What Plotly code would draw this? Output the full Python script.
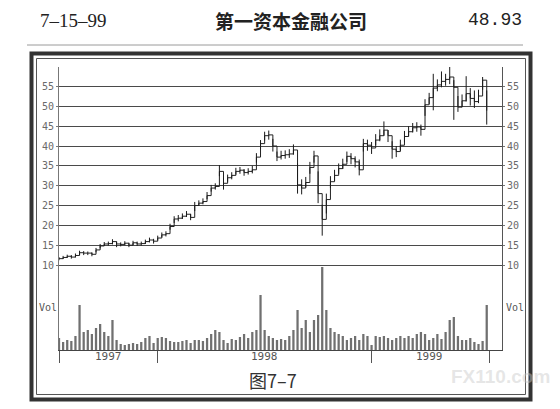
import datetime as dt
import plotly.graph_objects as go

# ---------------- data (weekly) ----------------
start = dt.date(1997, 7, 18)
n_weeks = 105
dates = [start + dt.timedelta(days=7 * i) for i in range(n_weeks)]

close = [11.6, 11.9, 12.2, 12.0, 12.4, 13.1, 13.0, 13.0, 12.7, 13.8,
         14.8, 15.3, 15.4, 15.9, 15.3, 15.2, 15.5, 15.0, 15.6, 15.3,
         15.4, 15.9, 16.3, 16.0, 16.8, 17.6, 17.9, 19.7, 21.6, 21.8,
         22.3, 22.8, 22.0, 25.0, 25.6, 26.0, 27.5, 29.4, 29.8, 33.6,
         30.6, 32.0, 32.6, 33.6, 33.9, 33.3, 33.6, 34.0, 37.2, 40.6,
         42.6, 42.8, 40.0, 37.2, 37.6, 37.8, 38.0, 39.0, 30.2, 29.4,
         30.8, 34.6, 37.5, 28.0, 21.5, 26.5, 31.0, 32.6, 34.3, 35.4,
         37.4, 36.8, 36.0, 34.0, 40.6, 40.2, 39.5, 41.5, 42.6, 44.0,
         42.6, 39.2, 38.6, 40.2, 42.4, 43.6, 44.6, 44.8, 44.2, 50.4,
         52.2, 54.6, 55.4, 56.3, 56.8, 57.4, 54.8, 49.8, 51.4, 53.2,
         52.0, 51.2, 52.6, 56.6, 48.93]

high = [12.0, 12.3, 12.6, 12.5, 12.9, 13.6, 13.5, 13.4, 13.2, 14.3,
        15.3, 15.8, 15.9, 16.5, 15.9, 15.7, 16.0, 15.6, 16.1, 15.9,
        15.9, 16.4, 16.9, 16.6, 17.4, 18.2, 18.5, 20.4, 22.3, 22.6,
        23.0, 23.6, 22.9, 25.9, 26.3, 26.8, 28.4, 30.2, 30.6, 35.2,
        32.0, 32.8, 33.4, 34.5, 34.7, 34.2, 34.4, 35.0, 38.2, 41.5,
        43.6, 43.9, 41.8, 38.6, 38.8, 38.9, 39.2, 40.4, 35.6, 31.6,
        32.2, 36.0, 38.8, 33.6, 25.2, 28.0, 32.4, 34.0, 35.6, 36.8,
        38.6, 38.2, 37.4, 36.6, 41.8, 41.6, 41.0, 43.0, 44.2, 46.2,
        44.0, 41.2, 40.0, 41.6, 43.8, 45.0, 45.8, 46.0, 45.4, 51.8,
        53.4, 58.2, 56.8, 58.8, 58.2, 60.0, 56.6, 52.6, 53.0, 57.6,
        54.6, 54.0, 54.2, 57.4, 54.0]

low = [11.2, 11.5, 11.8, 11.6, 11.9, 12.5, 12.5, 12.5, 12.2, 13.2,
       14.2, 14.8, 14.9, 15.2, 14.5, 14.7, 15.0, 14.5, 15.0, 14.8,
       14.9, 15.3, 15.7, 15.4, 16.2, 17.0, 17.2, 18.9, 20.6, 21.0,
       21.6, 22.1, 21.3, 23.6, 24.9, 25.3, 26.6, 28.5, 29.0, 32.4,
       29.0, 31.0, 31.6, 32.8, 33.0, 32.5, 32.8, 33.1, 35.8, 39.2,
       41.4, 41.6, 38.6, 36.2, 36.6, 36.8, 37.0, 37.8, 28.0, 27.8,
       29.6, 33.0, 35.8, 25.6, 17.4, 23.0, 29.4, 31.2, 33.0, 34.2,
       36.0, 35.4, 34.6, 32.6, 38.6, 38.8, 38.0, 40.2, 41.2, 42.6,
       41.0, 36.8, 37.2, 38.8, 41.0, 42.4, 43.4, 43.6, 42.6, 47.6,
       50.6, 49.0, 53.8, 54.8, 55.2, 55.6, 46.6, 48.6, 49.8, 51.2,
       50.2, 49.6, 50.8, 54.2, 45.4]

volume = [12, 8, 10, 9, 14, 45, 18, 20, 16, 22,
          26, 18, 14, 30, 10, 6, 5, 6, 7, 6,
          8, 12, 14, 7, 12, 13, 12, 9, 8, 8,
          9, 10, 7, 10, 10, 9, 12, 16, 20, 18,
          10, 7, 11, 10, 13, 16, 12, 18, 20, 55,
          20, 14, 12, 10, 11, 10, 14, 20, 40, 22,
          30, 18, 30, 35, 83, 40, 22, 18, 16, 14,
          10, 12, 14, 10, 16, 14, 5, 14, 13, 14,
          12, 10, 12, 14, 12, 14, 12, 16, 18, 16,
          10, 12, 16, 11, 18, 30, 33, 14, 10, 10,
          12, 8, 6, 9, 45]

price_ticks = [10, 15, 20, 25, 30, 35, 40, 45, 50, 55]
year_labels = ["1997", "1998", "1999"]
year_label_dates = [dt.date(1997, 10, 10), dt.date(1998, 7, 2), dt.date(1999, 4, 10)]
year_tick_dates = [dt.date(1997, 7, 18), dt.date(1998, 1, 1), dt.date(1999, 1, 1), dt.date(1999, 7, 20)]

title_date = "7–15–99"
title_name = "第一资本金融公司"
title_price = "48.93"
caption = "图7–7"

# ---------------- helpers ----------------
W, H = 560, 409
def PX(x):
    return x / W
def PY(y):
    return 1 - y / H

ydom = [PY(350), PY(67)]
prange = [-11.43, 59.92]
xrange_ = [dt.date(1997, 7, 18), dt.date(1999, 8, 11)]

# high-low bar segments
seg_x, seg_y = [], []
for d, h, l in zip(dates, high, low):
    seg_x += [d, d, None]
    seg_y += [l, h, None]

fig = go.Figure()

fig.add_trace(go.Bar(x=dates, y=volume, yaxis="y2",
                     marker=dict(color="#707070", line=dict(width=0)),
                     hoverinfo="skip", showlegend=False))

fig.add_trace(go.Scatter(x=dates, y=close, mode="lines", line_shape="hv",
                         line=dict(color="#222", width=1),
                         hoverinfo="skip", showlegend=False))
fig.add_trace(go.Scatter(x=seg_x, y=seg_y, mode="lines",
                         line=dict(color="#1a1a1a", width=1),
                         hoverinfo="skip", showlegend=False))
# dummy trace so the right-hand price axis is drawn
fig.add_trace(go.Scatter(x=[dates[0]], y=[close[0]], yaxis="y3", mode="markers",
                         marker=dict(opacity=0), hoverinfo="skip", showlegend=False))

tickfont = dict(family="DejaVu Sans Mono", size=10, color="#6a6a6a")

fig.update_layout(
    width=W, height=H,
    margin=dict(l=0, r=0, t=0, b=0),
    paper_bgcolor="white", plot_bgcolor="white",
    bargap=0.45,
    xaxis=dict(domain=[PX(59), PX(502)], range=xrange_, type="date",
               showgrid=False, zeroline=False,
               showline=True, linecolor="#444", linewidth=1,
               tickvals=year_tick_dates, ticktext=["", "", "", ""],
               ticks="outside", ticklen=12, tickcolor="#555", tickwidth=1),
    yaxis=dict(domain=ydom, range=prange, tickvals=price_ticks,
               showgrid=True, gridcolor="#4a4a4a", gridwidth=1,
               zeroline=False, showline=True, linecolor="#777", linewidth=1,
               ticks="outside", ticklen=2, tickcolor="#777",
               tickfont=tickfont),
    yaxis2=dict(domain=ydom, range=[0, 283], overlaying="y",
                showgrid=False, zeroline=False, showticklabels=False, showline=False),
    yaxis3=dict(domain=ydom, range=prange, overlaying="y", side="right",
                tickvals=price_ticks, showgrid=False, zeroline=False,
                showline=True, linecolor="#555", linewidth=1,
                ticks="outside", ticklen=2, tickcolor="#777",
                tickfont=tickfont),
)

shapes = [
    # header rule
    dict(type="line", xref="paper", yref="paper", x0=PX(27), x1=PX(523), y0=PY(45), y1=PY(45),
         line=dict(color="#9a9a9a", width=1)),
    # outer thick frame
    dict(type="rect", xref="paper", yref="paper", x0=PX(31.5), x1=PX(530.5), y0=PY(399.5), y1=PY(53.5),
         line=dict(color="#333", width=4)),
    # inner thin frame
    dict(type="rect", xref="paper", yref="paper", x0=PX(36.5), x1=PX(525.5), y0=PY(394.5), y1=PY(58.5),
         line=dict(color="#555", width=1)),
]
fig.update_layout(shapes=shapes)

ann = []
ann.append(dict(text=title_date, x=PX(38), y=PY(20), xanchor="left", yanchor="middle",
                font=dict(family="Liberation Serif", size=19, color="#222")))
ann.append(dict(text="<b>" + title_name + "</b>", x=PX(291), y=PY(20), xanchor="center", yanchor="middle",
                font=dict(family="Noto Sans CJK SC", size=19, color="#222")))
ann.append(dict(text=title_price, x=PX(524), y=PY(20), xanchor="right", yanchor="middle",
                font=dict(family="Liberation Mono", size=18, color="#222")))
ann.append(dict(text="Vol", x=PX(37), y=PY(307), xanchor="left", yanchor="middle",
                font=dict(family="DejaVu Sans Mono", size=10, color="#555")))
ann.append(dict(text="Vol", x=PX(504), y=PY(307), xanchor="left", yanchor="middle",
                font=dict(family="DejaVu Sans Mono", size=10, color="#555")))
for lab, d in zip(year_labels, year_label_dates):
    ann.append(dict(text=lab, x=d, xref="x", y=PY(356), yref="paper",
                    xanchor="center", yanchor="middle",
                    font=dict(family="DejaVu Sans Mono", size=11, color="#555")))
ann.append(dict(text=caption, x=PX(273), y=PY(380), xanchor="center", yanchor="middle",
                font=dict(family="Noto Sans CJK SC", size=18, color="#333")))
# faint watermark
ann.append(dict(text="<b>FX110.com</b>", x=PX(449), y=PY(376), xanchor="left", yanchor="middle",
                font=dict(family="Liberation Sans", size=19, color="rgba(200,200,200,0.45)")))
for a in ann:
    a.setdefault("xref", "paper")
    a.setdefault("yref", "paper")
    a["showarrow"] = False
fig.update_layout(annotations=ann)

fig.write_html("out.html", config={"displayModeBar": False, "staticPlot": True},
               post_script="document.body.style.margin='0';")
